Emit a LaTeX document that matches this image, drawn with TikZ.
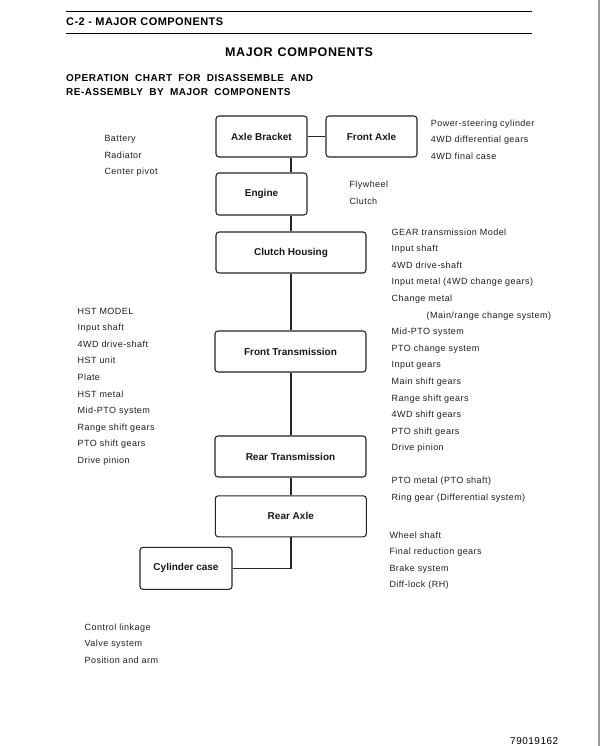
\documentclass[tikz,border=0pt]{standalone}
\usepackage{fontspec}
\setmainfont{Liberation Sans}
\newfontfamily\lsp[LetterSpace=5]{Liberation Sans}
\newfontfamily\hsp[LetterSpace=4]{Liberation Sans}
\begin{document}
\begin{tikzpicture}[x=1pt,y=-1pt,
  box/.style={draw=black!85, line width=1.1pt, rounded corners=3pt, inner sep=0pt,
    font=\bfseries\fontsize{10}{12}\selectfont, text=black!90},
  conn/.style={line width=1.6pt, draw=black!85},
  list/.style={anchor=base west, align=left, inner sep=0pt, text=black!88,
    font=\lsp\fontsize{9}{16.6}\selectfont},
  hdr/.style={anchor=base west, inner sep=0pt, text=black,
    font=\hsp\bfseries\fontsize{11}{13}\selectfont},
  rule/.style={line width=1.2pt, draw=black}]
\useasboundingbox (0,0) rectangle (600,746);
\fill[white] (0,0) rectangle (600,746);
\fill[black!40] (597.7,0) rectangle (600,746);

% header
\coordinate (r1a) at (66,11.7); \coordinate (r1b) at (532,11.7);
\coordinate (r2a) at (66,33.3); \coordinate (r2b) at (532,33.3);
\draw[rule] (r1a) -- (r1b);
\draw[rule] (r2a) -- (r2b);
\node[hdr] (hdr) at (66,25.6) {C-2 - MAJOR COMPONENTS};
\node[anchor=base, inner sep=0pt, font=\lsp\bfseries\fontsize{12.5}{15}\selectfont] (title) at (299,57) {MAJOR\hspace{5pt}COMPONENTS};
\node[anchor=base west, align=left, inner sep=0pt, font=\lsp\bfseries\fontsize{10}{14}\selectfont] (sub) at (66,95.5)
  {OPERATION\hspace{3pt} CHART\hspace{3pt} FOR\hspace{3pt} DISASSEMBLE\hspace{3pt} AND\\RE-ASSEMBLY\hspace{3pt} BY\hspace{3pt} MAJOR\hspace{3pt} COMPONENTS};

% boxes
\node[box, minimum width=91pt, minimum height=41pt] (ab) at (261.5,136.5) {Axle Bracket};
\node[box, minimum width=91pt, minimum height=41pt] (fa) at (371.5,136.5) {Front Axle};
\node[box, minimum width=91pt, minimum height=42pt] (en) at (261.5,194) {Engine};
\node[box, minimum width=150pt, minimum height=41pt] (ch) at (291,252.5) {Clutch Housing};
\node[box, minimum width=151pt, minimum height=41pt] (ft) at (290.5,351.5) {Front Transmission};
\node[box, minimum width=151pt, minimum height=41pt] (rt) at (290.5,456.5) {Rear Transmission};
\node[box, minimum width=151pt, minimum height=41pt] (ra) at (290.8,516.3) {Rear Axle};
\node[box, minimum width=92pt, minimum height=42pt] (cc) at (186,568.3) {Cylinder case};

% connectors
\coordinate (sp) at (290.7,0);
\draw[conn] (ab.east) -- (fa.west);
\draw[conn] (ab.south -| sp) -- (en.north -| sp);
\draw[conn] (en.south -| sp) -- (ch.north -| sp);
\draw[conn] (ch.south -| sp) -- (ft.north -| sp);
\draw[conn] (ft.south -| sp) -- (rt.north -| sp);
\draw[conn] (rt.south -| sp) -- (ra.north -| sp);
\draw[conn] (ra.south -| sp) |- (cc.east);

% lists (anchor at baseline of last line)
\node[list] (l1) at (104.3,175) {Battery\\Radiator\\Center pivot};
\node[list] (l2) at (430.7,159.5) {Power-steering cylinder\\4WD differential gears\\4WD final case};
\node[list] (l3) at (349.3,204.2) {Flywheel\\Clutch};
\node[list] (l4) at (391.5,318.1) {GEAR transmission Model\\Input shaft\\4WD drive-shaft\\Input metal (4WD change gears)\\Change metal\\\hspace{35pt}(Main/range change system)};
\node[list] (l5) at (391.5,450.9) {Mid-PTO system\\PTO change system\\Input gears\\Main shift gears\\Range shift gears\\4WD shift gears\\PTO shift gears\\Drive pinion};
\node[list] (l6) at (391.5,500.4) {PTO metal (PTO shaft)\\Ring gear (Differential system)};
\node[list] (l7) at (77.5,463.5) {HST MODEL\\Input shaft\\4WD drive-shaft\\HST unit\\Plate\\HST metal\\Mid-PTO system\\Range shift gears\\PTO shift gears\\Drive pinion};
\node[list] (l8) at (389.3,587.9) {Wheel shaft\\Final reduction gears\\Brake system\\Diff-lock (RH)};
\node[list] (l9) at (84.5,663.3) {Control linkage\\Valve system\\Position and arm};
\node[anchor=base west, inner sep=0pt, font=\lsp\fontsize{10}{12}\selectfont] (num) at (510,744.3) {79019162};
\end{tikzpicture}
\end{document}
